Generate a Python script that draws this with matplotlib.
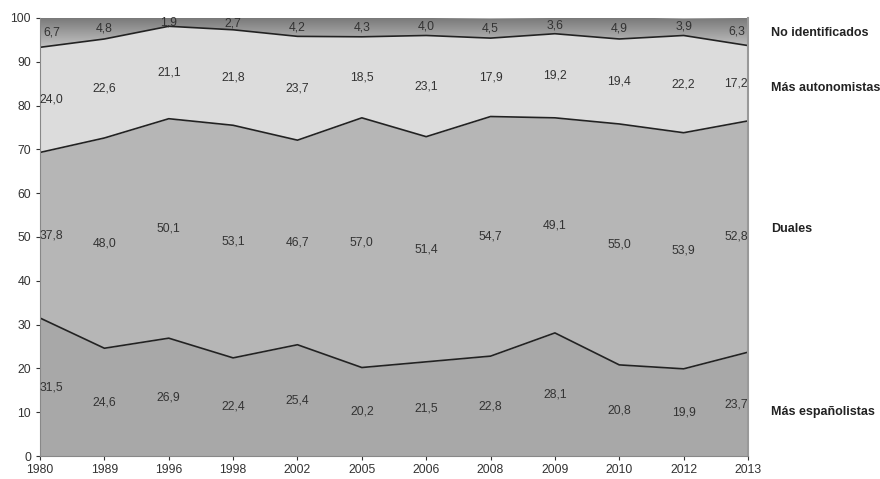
import numpy as np
import matplotlib.pyplot as plt
from matplotlib.colors import LinearSegmentedColormap

years = ["1980", "1989", "1996", "1998", "2002", "2005", "2006", "2008",
         "2009", "2010", "2012", "2013"]
espanolistas = [31.5, 24.6, 26.9, 22.4, 25.4, 20.2, 21.5, 22.8, 28.1, 20.8, 19.9, 23.7]
duales = [37.8, 48.0, 50.1, 53.1, 46.7, 57.0, 51.4, 54.7, 49.1, 55.0, 53.9, 52.8]
autonomistas = [24.0, 22.6, 21.1, 21.8, 23.7, 18.5, 23.1, 17.9, 19.2, 19.4, 22.2, 17.2]
no_ident = [6.7, 4.8, 1.9, 2.7, 4.2, 4.3, 4.0, 4.5, 3.6, 4.9, 3.9, 6.3]

series = [espanolistas, duales, autonomistas, no_ident]
names = ["Más españolistas", "Duales", "Más autonomistas", "No identificados"]
colors = ["#a8a8a8", "#b6b6b6", "#dcdcdc", None]
name_y = [10, 51.8, 84, 96.5]

plt.rcParams['font.family'] = ['Liberation Sans', 'DejaVu Sans']

fig = plt.figure(figsize=(8.8, 4.79), dpi=100)
ax = fig.add_axes([0.0455, 0.048, 0.8045, 0.9145])

x = np.arange(len(years))
data = np.array(series)
tops = np.cumsum(data, axis=0)
bottoms = tops - data

for k in range(len(series)):
    if colors[k] is not None:
        ax.fill_between(x, bottoms[k], tops[k], color=colors[k], lw=0, zorder=1)
    else:
        # top band has a vertical grey gradient
        poly = ax.fill_between(x, bottoms[k], tops[k], color="none", lw=0, zorder=1)
        cmap = LinearSegmentedColormap.from_list("g", ["#d2d2d2", "#777777"])
        grad = np.linspace(0, 1, 256).reshape(-1, 1)
        im = ax.imshow(grad, extent=[0, len(years) - 1, 92, 100], origin="lower",
                       cmap=cmap, aspect="auto", zorder=1)
        im.set_clip_path(poly.get_paths()[0], transform=ax.transData)
    if k < len(series) - 1:
        ax.plot(x, tops[k], color="#222222", lw=1.2, zorder=2)

for k in range(len(series)):
    for i in range(len(years)):
        dx = 0
        if i == 0:
            dx = 0.18
        elif i == len(years) - 1:
            dx = -0.18
        ypos = bottoms[k][i] + data[k][i] / 2
        ax.text(x[i] + dx, ypos, f"{data[k][i]:.1f}".replace(".", ","),
                ha="center", va="center", fontsize=8.8, color="#333333", zorder=3)
    ax.text(1.033, name_y[k] / 100, names[k], transform=ax.transAxes,
            ha="left", va="center", fontsize=9, fontweight="bold", color="#222222")

ax.set_xlim(0, len(years) - 1)
ax.set_ylim(0, 100)
ax.set_xticks(x)
ax.set_xticklabels(years)
ax.set_yticks(range(0, 101, 10))
ax.tick_params(labelsize=8.8, colors="#333333", length=3, direction="out")
ax.tick_params(axis="x", pad=3)
ax.spines["top"].set_visible(False)
ax.spines["left"].set_color("#888888")
ax.spines["bottom"].set_color("#888888")
ax.spines["right"].set_color("#999999")
ax.spines["right"].set_linewidth(1.5)

fig.savefig("out.png", dpi=100)
plt.close(fig)
